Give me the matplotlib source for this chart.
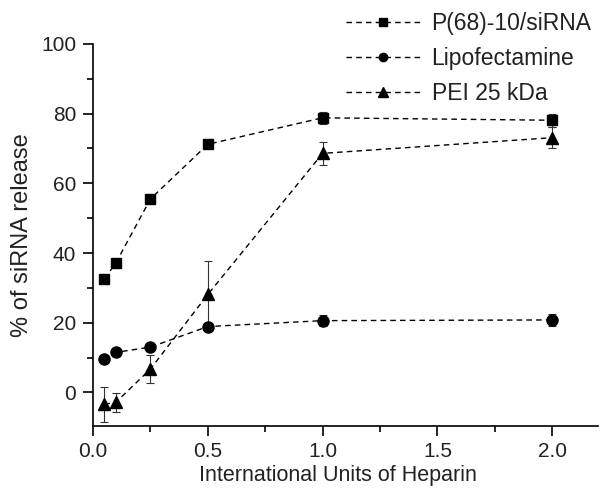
import numpy as np
import matplotlib
matplotlib.use('Agg')
import matplotlib.pyplot as plt
from matplotlib.ticker import MultipleLocator, FormatStrFormatter

plt.rcParams['font.family'] = ['Liberation Sans', 'DejaVu Sans']

# heparin units
units = [0.05, 0.1, 0.25, 0.5, 1.0, 2.0]

# % siRNA release (mean, sd)
p68 = [32.6, 37.2, 55.5, 71.2, 78.8, 78.1]
p68_err = [0.6, 0.6, 0.6, 0.6, 1.7, 1.9]
lipo = [9.6, 11.5, 13.0, 18.9, 20.6, 20.8]
lipo_err = [0.8, 1.0, 1.0, 1.0, 1.5, 1.6]
pei = [-3.4, -2.8, 6.7, 28.1, 68.6, 73.1]
pei_err = [5.0, 2.7, 3.9, 9.5, 3.3, 3.0]

names = ['P(68)-10/siRNA', 'Lipofectamine', 'PEI 25 kDa']

fig = plt.figure(figsize=(6.0, 4.88), dpi=100)
ax = fig.add_axes([0.155, 0.128, 0.842, 0.782])

series = [(p68, p68_err, 's', 7), (lipo, lipo_err, 'o', 8), (pei, pei_err, '^', 9)]
handles = []
for (vals, errs, mk, ms), name in zip(series, names):
    ax.errorbar(units, vals, yerr=errs, fmt='none', ecolor='#333333',
                elinewidth=0.8, capsize=3, capthick=0.8, zorder=2)
    h, = ax.plot(units, vals, color='black', ls=(0, (4, 3)), lw=1.0,
                 marker=mk, ms=ms, mfc='black', mec='black', label=name, zorder=3)
    handles.append(h)

ax.set_xlim(0, 2.2)
ax.set_ylim(-9.5, 100)
ax.xaxis.set_major_locator(MultipleLocator(0.5))
ax.xaxis.set_minor_locator(MultipleLocator(0.25))
ax.yaxis.set_major_locator(MultipleLocator(20))
ax.yaxis.set_minor_locator(MultipleLocator(10))
ax.xaxis.set_major_formatter(FormatStrFormatter('%.1f'))

for s in ['top', 'right']:
    ax.spines[s].set_visible(False)
for s in ['left', 'bottom']:
    ax.spines[s].set_linewidth(1.2)
ax.tick_params(which='major', direction='out', length=7, width=1.2,
               labelsize=15, pad=5, labelcolor='#222222')
ax.tick_params(which='minor', direction='out', length=4.5, width=1.2)

ax.set_xlabel('International Units of Heparin', fontsize=15.5, color='#222222')
ax.xaxis.set_label_coords(0.485, -0.104)
ax.set_ylabel('% of siRNA release', fontsize=17, labelpad=6, color='#222222')

leg = fig.legend(handles=handles, loc='upper right', bbox_to_anchor=(1.005, 0.998),
                 frameon=False, fontsize=16.5, handlelength=3.3, handletextpad=0.45,
                 labelspacing=0.52, borderaxespad=0.1, markerscale=0.75)
for t in leg.get_texts():
    t.set_color('#222222')

fig.savefig('out.png', dpi=100)
